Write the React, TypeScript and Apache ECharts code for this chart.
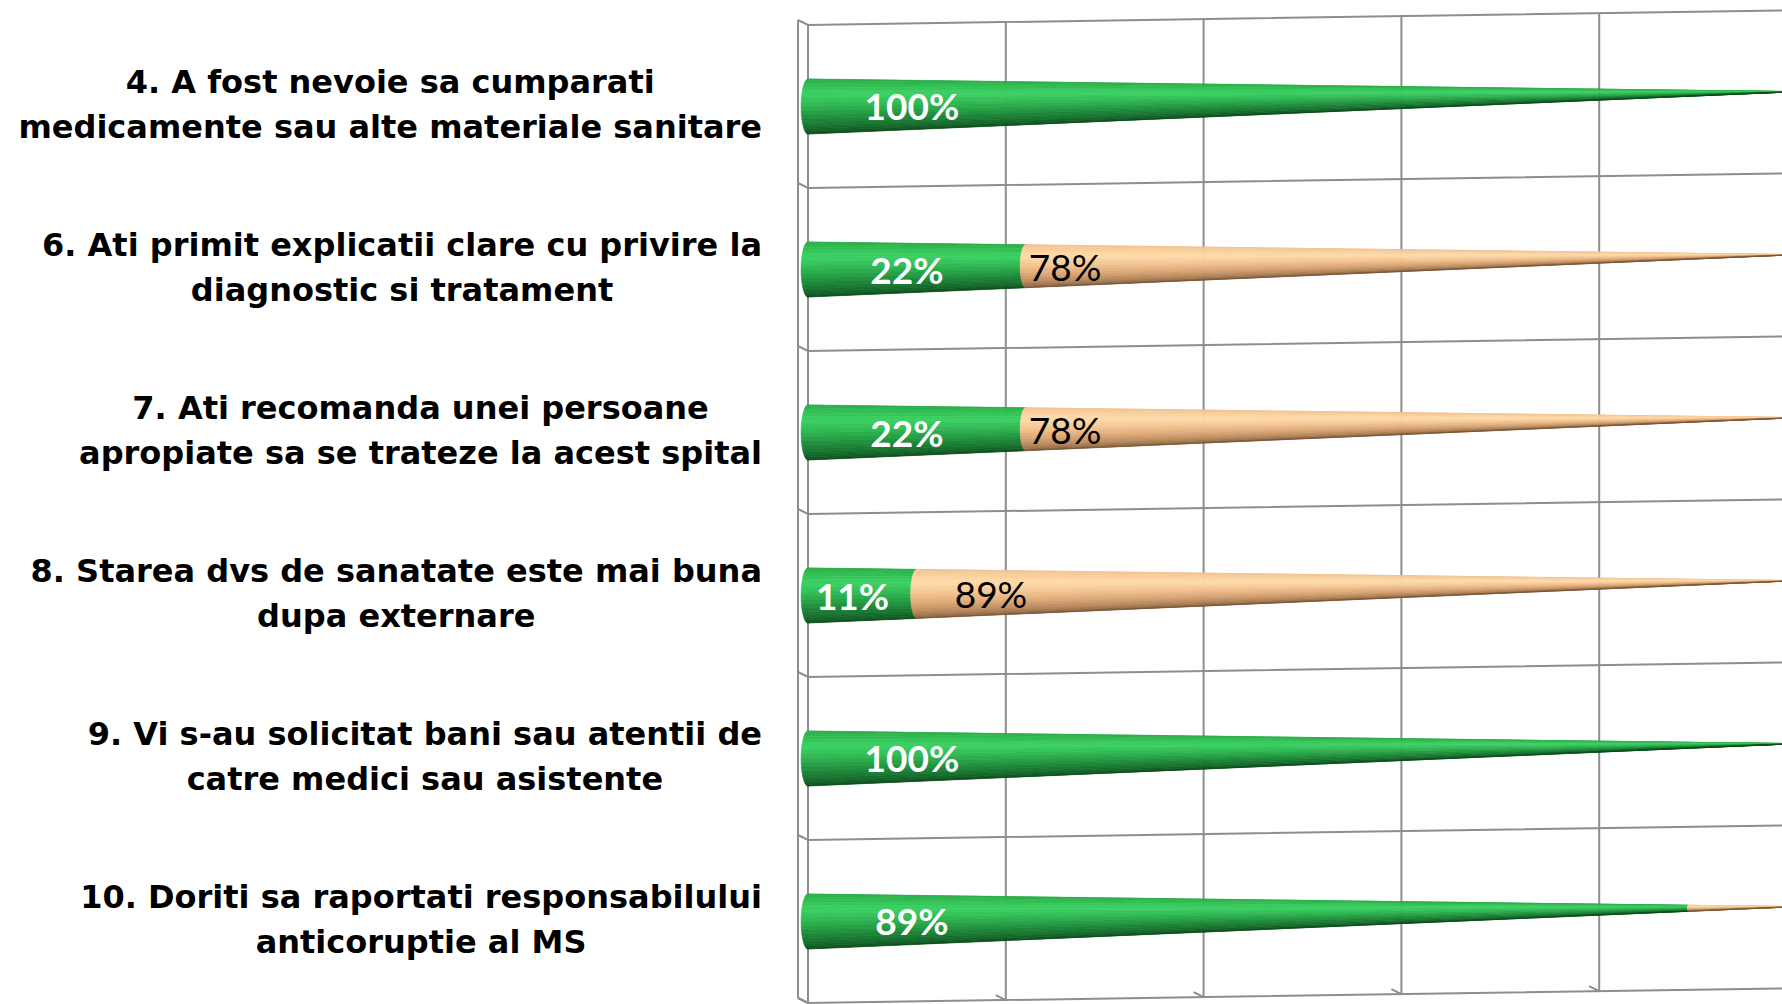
import React, { useEffect, useRef } from "react";
import * as echarts from "echarts";

// ---------- data ----------
const categories = [
  "4. A fost nevoie sa cumparati\nmedicamente sau alte materiale sanitare",
  "6. Ati primit explicatii clare cu privire la\ndiagnostic si tratament",
  "7. Ati recomanda unei persoane\napropiate sa se trateze la acest spital",
  "8. Starea dvs de sanatate este mai buna\ndupa externare",
  "9. Vi s-au solicitat bani sau atentii de\ncatre medici sau asistente",
  "10. Doriti sa raportati responsabilului\nanticoruptie al MS",
];
const greenValues = [100, 22, 22, 11, 100, 89];
const orangeValues = [0, 78, 78, 89, 0, 11];
const xTicks = [0, 20, 40, 60, 80, 100];
const boundaries = [0, 1, 2, 3, 4, 5, 6];

// ---------- style ----------
const SLOPE = -0.015;
const WALL = 10;
const GRID_COLOR = "#8e8e8e";
const CAT_FONT = "bold 32px 'DejaVu Sans'";
const CAT_LINE_H = 45.5;
const CAT_GAP = 46;
const LABEL_FONT_B = "bold 37px Lato";
const LABEL_FONT_R = "37px Lato";
const K_ELLIPSE = 0.25;
const STRIPS = 20;

const GREEN_STOPS: [number, string][] = [
  [0, "#24a341"],
  [0.2, "#2fbb50"],
  [0.36, "#3dd265"],
  [0.5, "#2eb552"],
  [0.65, "#1f8c3a"],
  [0.82, "#146629"],
  [1, "#0a4418"],
];
const ORANGE_STOPS: [number, string][] = [
  [0, "#efbc86"],
  [0.2, "#f8cd9a"],
  [0.36, "#ffdcab"],
  [0.5, "#f3c490"],
  [0.65, "#d8a473"],
  [0.82, "#a97c53"],
  [1, "#6f4d31"],
];

function hexToRgb(h: string) {
  const n = parseInt(h.slice(1), 16);
  return [(n >> 16) & 255, (n >> 8) & 255, n & 255];
}
function colorAt(stops: [number, string][], t: number) {
  for (let i = 1; i < stops.length; i++) {
    if (t <= stops[i][0]) {
      const [t0, c0] = stops[i - 1];
      const [t1, c1] = stops[i];
      const f = (t - t0) / (t1 - t0);
      const a = hexToRgb(c0);
      const b = hexToRgb(c1);
      const c = a.map((v, k) => Math.round(v + (b[k] - v) * f));
      return `rgb(${c[0]},${c[1]},${c[2]})`;
    }
  }
  return stops[stops.length - 1][1];
}

let measureCtx: CanvasRenderingContext2D | null = null;
function measure(font: string, text: string) {
  if (!measureCtx) measureCtx = document.createElement("canvas").getContext("2d");
  measureCtx!.font = font;
  return measureCtx!.measureText(text).width;
}

export default function App() {
  const ref = useRef<HTMLDivElement>(null);

  useEffect(() => {
    if (!ref.current) return;
    const chart = echarts.init(ref.current, null, { renderer: "svg" });

    const gridSeries = {
      type: "custom",
      silent: true,
      z: 1,
      data: xTicks.map((v) => [v, 0]),
      renderItem: (params: any, api: any) => {
        const cs = params.coordSys;
        const x = api.coord([api.value(0), 0])[0];
        const top = cs.y + SLOPE * (x - cs.x);
        const bottom = cs.y + cs.height + SLOPE * (x - cs.x);
        const children: any[] = [
          {
            type: "line",
            shape: { x1: x, y1: top, x2: x, y2: bottom },
            style: { stroke: GRID_COLOR, lineWidth: 2 },
          },
          {
            type: "line",
            shape: { x1: x - WALL, y1: bottom - 5, x2: x, y2: bottom },
            style: { stroke: GRID_COLOR, lineWidth: 2 },
          },
        ];
        if (params.dataIndex === 0) {
          children.push({
            type: "line",
            shape: { x1: x - WALL, y1: top - 5, x2: x - WALL, y2: bottom - 5 },
            style: { stroke: GRID_COLOR, lineWidth: 2 },
          });
        }
        return { type: "group", children };
      },
    };

    const hLineSeries = {
      type: "custom",
      silent: true,
      z: 1,
      data: boundaries.map((b) => [0, Math.min(b, categories.length - 1)]),
      renderItem: (params: any, api: any) => {
        const k = params.dataIndex;
        const band = api.size([0, 1])[1];
        const c = api.coord([0, api.value(1)]);
        const y0 = k < categories.length ? c[1] - band / 2 : c[1] + band / 2;
        const x0 = c[0];
        const x1 = api.coord([100, api.value(1)])[0];
        return {
          type: "polyline",
          shape: {
            points: [
              [x0 - WALL, y0 - 5],
              [x0, y0],
              [x1, y0 + SLOPE * (x1 - x0)],
            ],
          },
          style: { stroke: GRID_COLOR, lineWidth: 2, fill: "none" },
        };
      },
    };

    const coneSeries = {
      type: "custom",
      silent: true,
      z: 5,
      encode: { x: 0, y: 1 },
      data: categories.map((_, i) => [greenValues[i], i, orangeValues[i]]),
      renderItem: (params: any, api: any) => {
        const g = api.value(0);
        const idx = api.value(1);
        const o = api.value(2);
        const base = api.coord([0, idx]);
        const tipX = api.coord([100, idx])[0];
        const band = api.size([0, 1])[1];
        const R = band * 0.169;
        const x0 = base[0];
        const cy0 = base[1];
        const L = tipX - x0;
        const yc = (x: number) => cy0 + SLOPE * (x - x0);
        const r = (x: number) => R * Math.max(0, 1 - (x - x0) / L);
        const P = (x: number, th: number) => [
          x - K_ELLIPSE * r(x) * Math.sin(th),
          yc(x) - r(x) * Math.cos(th),
        ];
        const gx = api.coord([g, idx])[0];
        const ex = api.coord([g + o, idx])[0];
        const segs: [number, number, [number, string][]][] = [];
        if (g > 0) segs.push([x0, gx, GREEN_STOPS]);
        if (o > 0) segs.push([gx, ex, ORANGE_STOPS]);
        const children: any[] = [];
        for (const [xs, xe, stops] of segs) {
          for (let i = 0; i < STRIPS; i++) {
            const ta = (Math.PI * i) / STRIPS;
            const tb = (Math.PI * (i + 1)) / STRIPS;
            const col = colorAt(stops, (i + 0.5) / STRIPS);
            children.push({
              type: "polygon",
              shape: { points: [P(xs, ta), P(xe, ta), P(xe, tb), P(xs, tb)] },
              style: { fill: col, stroke: col, lineWidth: 0.6 },
            });
          }
        }
        if (g > 0) {
          const lx = api.coord([Math.min(g / 2 - 1, 10.5), idx])[0];
          children.push({
            type: "text",
            x: lx,
            y: yc(lx) + 1,
            style: {
              text: `${g}%`,
              font: LABEL_FONT_B,
              fill: "#ffffff",
              align: "center",
              verticalAlign: "middle",
              textAlign: "center",
              textVerticalAlign: "middle",
            },
          });
        }
        if (o >= 20 && g > 0) {
          const lx = api.coord([Math.max(g + 4, 18.5), idx])[0];
          children.push({
            type: "text",
            x: lx,
            y: yc(lx) + 1,
            style: {
              text: `${o}%`,
              font: LABEL_FONT_R,
              fill: "#000000",
              align: "center",
              verticalAlign: "middle",
              textAlign: "center",
              textVerticalAlign: "middle",
            },
          });
        }
        return { type: "group", children };
      },
    };

    const catLabelSeries = {
      type: "custom",
      silent: true,
      z: 6,
      data: categories.map((_, i) => [0, i]),
      renderItem: (params: any, api: any) => {
        const idx = api.value(1);
        const p = api.coord([0, idx]);
        const text = categories[idx];
        const w = Math.max(...text.split("\n").map((l) => measure(CAT_FONT, l)));
        return {
          type: "text",
          x: p[0] - CAT_GAP - w / 2,
          y: p[1] - 2,
          style: {
            text,
            font: CAT_FONT,
            lineHeight: CAT_LINE_H,
            fill: "#000000",
            align: "center",
            verticalAlign: "middle",
            textAlign: "center",
            textVerticalAlign: "middle",
          },
        };
      },
    };

    chart.setOption({
      animation: false,
      backgroundColor: "#ffffff",
      grid: { left: 808, top: 25, width: 989, height: 978 },
      xAxis: {
        type: "value",
        min: 0,
        max: 100,
        interval: 20,
        show: false,
      },
      yAxis: {
        type: "category",
        data: categories,
        inverse: true,
        show: false,
      },
      series: [gridSeries, hLineSeries, coneSeries, catLabelSeries],
    });

    return () => chart.dispose();
  }, []);

  return (
    <div
      ref={ref}
      style={{
        position: "fixed",
        left: 0,
        top: 0,
        width: 1800,
        height: 1010,
        background: "#ffffff",
      }}
    />
  );
}
